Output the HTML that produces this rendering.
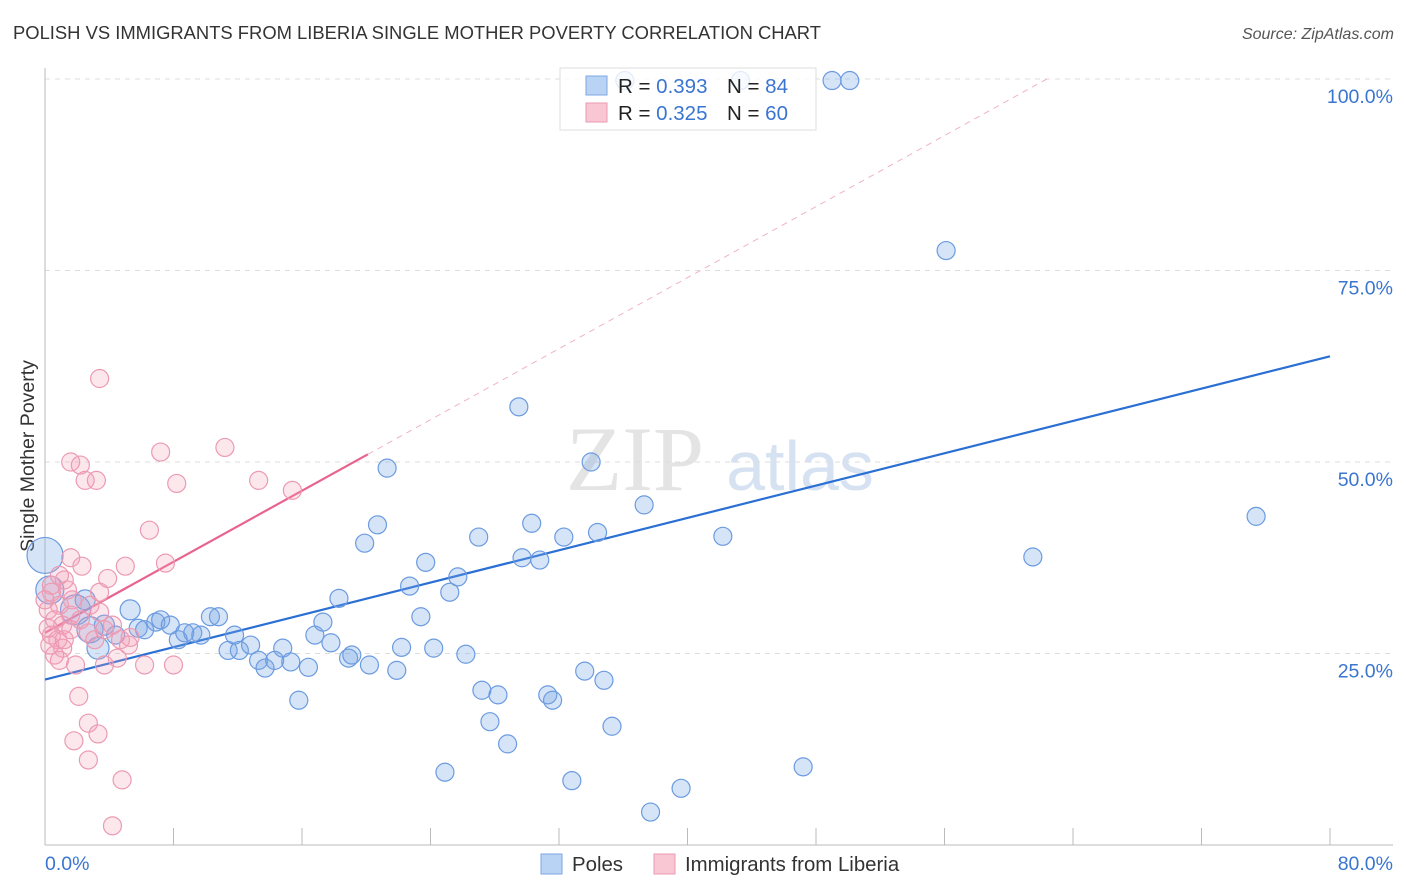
<!DOCTYPE html>
<html><head><meta charset="utf-8"><style>
body{margin:0;background:#fff;font-family:"Liberation Sans",sans-serif;}
svg{display:block}
</style></head><body>
<svg id="chart" width="1406" height="892" viewBox="0 0 1406 892" xmlns="http://www.w3.org/2000/svg">
<text x="13" y="39" font-size="18.4" fill="#333">POLISH VS IMMIGRANTS FROM LIBERIA SINGLE MOTHER POVERTY CORRELATION CHART</text>
<text x="1394" y="39" font-size="16" fill="#555" font-style="italic" text-anchor="end">Source: ZipAtlas.com</text>
<text x="0" y="0" transform="translate(34,456) rotate(-90)" font-size="19.5" fill="#333" text-anchor="middle">Single Mother Poverty</text>
<g><text x="635" y="490" font-size="92" font-family="Liberation Serif,serif" fill="#e4e4e4" text-anchor="middle">ZIP</text><text x="800" y="490" font-size="70" fill="#d6e2f2" text-anchor="middle">atlas</text></g>
<g id="grid"></g><g id="axes"></g><g id="lines"></g>
<g id="pts"></g>
<g>
<rect x="560" y="68" width="256" height="62" fill="#fff" fill-opacity="0.8" stroke="#ddd"/>
<rect x="586" y="76" width="21" height="19" fill="#b9d3f5" stroke="#7ea7e3"/>
<rect x="586" y="103" width="21" height="19" fill="#f9c6d4" stroke="#eb9ab2"/>
<text x="618" y="93" font-size="20.5" fill="#222">R = <tspan fill="#3a75d0">0.393</tspan><tspan x="727">N = </tspan><tspan fill="#3a75d0">84</tspan></text>
<text x="618" y="120" font-size="20.5" fill="#222">R = <tspan fill="#3a75d0">0.325</tspan><tspan x="727">N = </tspan><tspan fill="#3a75d0">60</tspan></text>
</g>
<g>
<rect x="541" y="854" width="21" height="20" fill="#b9d3f5" stroke="#7ea7e3"/>
<text x="572" y="871" font-size="20.4" fill="#333">Poles</text>
<rect x="654" y="854" width="21" height="20" fill="#f9c6d4" stroke="#eb9ab2"/>
<text x="685" y="871" font-size="20.4" fill="#333">Immigrants from Liberia</text>
</g>
</svg>
<script>
const yTicks=[25,50,75,100];
const yTickLabels=["25.0%","50.0%","75.0%","100.0%"];
const xTicks=[0,8,16,24,32,40,48,56,64,72,80];
const polesX=[0,0.3,1.9,2.5,2.8,3.3,3.7,4.4,5.3,5.8,6.2,6.9,7.2,7.8,8.3,8.7,9.2,9.7,10.3,10.8,11.4,11.8,12.1,12.8,13.3,13.7,14.3,14.8,15.3,15.8,16.4,16.8,17.3,17.8,18.3,18.9,19.1,19.9,20.2,20.7,21.3,21.9,22.2,22.7,23.4,23.7,24.2,25.2,25.7,26.2,24.9,27.0,27.2,27.7,28.2,28.8,29.5,29.7,30.3,30.8,31.3,31.6,32.3,32.8,33.6,34.0,34.4,34.8,35.3,37.3,37.7,39.6,42.2,47.2,56.1,61.5,75.4,36.1,43.3,49.0,50.1];
const polesY=[37.8,33.3,30.7,32.0,28.1,25.7,28.7,27.4,30.7,28.3,28.1,29.1,29.4,28.7,26.8,27.7,27.7,27.4,29.8,29.8,25.4,27.4,25.4,26.1,24.1,23.1,24.1,25.7,23.9,18.9,23.2,27.4,29.1,26.4,32.2,24.4,24.8,39.4,23.5,41.8,49.2,22.8,25.8,33.8,29.8,36.9,25.7,33.0,35.0,24.9,9.5,40.2,20.2,16.1,19.6,13.2,57.2,37.5,42.0,37.2,19.6,18.9,40.2,8.4,22.7,50.0,40.8,21.5,15.5,44.4,4.3,7.4,40.3,10.2,77.6,37.6,42.9,99.8,99.8,99.8,99.8];
const polesR=[18,14,15,10,13,11,10,9,10,9,9,9,9,9,9,9,9,9,9,9,9,9,9,9,9,9,9,9,9,9,9,9,9,9,9,9,9,9,9,9,9,9,9,9,9,9,9,9,9,9,9,9,9,9,9,9,9,9,9,9,9,9,9,9,9,9,9,9,9,9,9,9,9,9,9,9,9,9,9,9,9];
const libX=[3.4,1.6,2.2,2.5,3.2,7.2,8.2,11.2,13.3,15.4,6.5,7.5,1.6,2.3,5.0,0.4,3.9,1.2,3.4,0.2,0.9,1.7,2.8,0.6,1.1,1.6,2.2,0.2,0.4,0.8,1.1,1.6,2.7,3.1,3.7,4.2,4.7,5.3,0.6,0.9,1.9,3.7,4.5,5.2,6.2,8.0,2.1,2.7,3.3,1.8,2.7,4.8,4.2,0.4,0,0.9,1.4,0.3,1.2,3.4];
const libY=[60.9,50.0,49.6,47.6,47.6,51.3,47.2,51.9,47.6,46.3,41.1,36.8,37.5,36.4,36.4,33.0,34.8,34.6,33.0,30.7,31.3,32.0,31.3,29.4,28.7,30.0,29.4,28.3,27.4,26.8,25.7,28.1,27.7,26.8,28.1,28.7,26.8,27.1,24.8,24.1,23.5,23.5,24.4,26.1,23.5,23.5,19.4,15.9,14.5,13.6,11.1,8.5,2.5,33.9,32.0,35.2,33.3,26.1,26.8,30.4];
const polesFit=[21.6,63.8];
const libFit=[27.7,51.0];
const libFitEnd=20.1;
const NS="http://www.w3.org/2000/svg";
const X=v=>45+v/80*1285, Y=v=>845-v/100*766;
function mk(tag,attrs,parent){const e=document.createElementNS(NS,tag);for(const k in attrs)e.setAttribute(k,attrs[k]);document.getElementById(parent).appendChild(e);return e;}
yTicks.forEach((t,i)=>{
 const g=mk('line',{x1:45,x2:1393,y1:Y(t),y2:Y(t),stroke:'#ddd','stroke-dasharray':'5,5'},'grid');
 
 
 const l=mk('text',{x:1393,y:Y(t)+24,'font-size':19.5,fill:'#3a75d0','text-anchor':'end'},'grid');l.textContent=yTickLabels[i];
 
 
});
let a=mk('line',{x1:45,x2:45,y1:68,y2:845,stroke:'#bbb'},'axes');


a=mk('line',{x1:45,x2:1393,y1:845,y2:845,stroke:'#bbb'},'axes');


xTicks.forEach(t=>{const k=mk('line',{x1:X(t),x2:X(t),y1:828,y2:845,stroke:'#bbb'},'axes');
 
 });
let t=mk('text',{x:45,y:870,'font-size':19.5,fill:'#3a75d0'},'axes');t.textContent='0.0%';


t=mk('text',{x:1393,y:870,'font-size':19.5,fill:'#3a75d0','text-anchor':'end'},'axes');t.textContent='80.0%';


polesX.forEach((v,i)=>{const c=mk('circle',{cx:X(v),cy:Y(polesY[i]),r:polesR[i]||9,fill:'rgba(120,165,230,0.3)',stroke:'#6b9be0','stroke-width':1.2},'pts');
 
 });
libX.forEach((v,i)=>{const c=mk('circle',{cx:X(v),cy:Y(libY[i]),r:9,fill:'rgba(245,160,185,0.25)',stroke:'#ec9ab3','stroke-width':1.2},'pts');
 
 });
const slope=(libFit[1]-libFit[0])/libFitEnd;
const xe=(100-libFit[0])/slope;
let d=mk('line',{x1:X(libFitEnd),y1:Y(libFit[1]),x2:X(xe),y2:Y(100),stroke:'#f0b3c5','stroke-dasharray':'6,5','stroke-width':1},'lines');


d=mk('line',{x1:X(0),y1:Y(libFit[0]),x2:X(libFitEnd),y2:Y(libFit[1]),stroke:'#e8648e','stroke-width':2.2},'lines');


d=mk('line',{x1:X(0),y1:Y(polesFit[0]),x2:X(80),y2:Y(polesFit[1]),stroke:'#2a6fd4','stroke-width':2.2},'lines');


</script>
</body></html>
